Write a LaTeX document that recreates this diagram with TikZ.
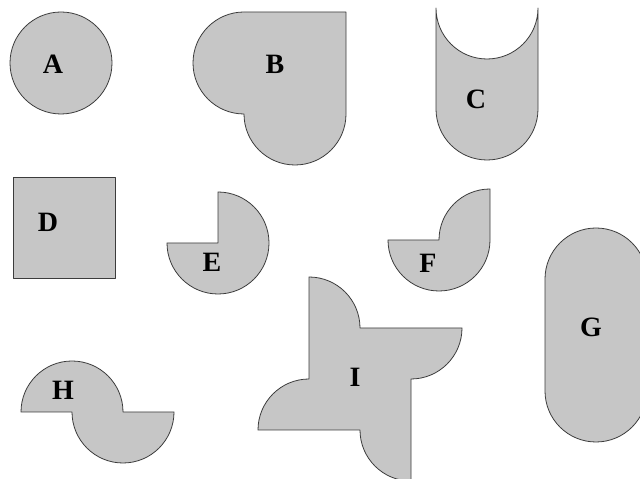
\documentclass[tikz,border=0pt]{standalone}
\usepackage{fontspec}
\setmainfont{Liberation Serif}
\usepackage{tikz}
\definecolor{piecefill}{RGB}{198,198,198}
\definecolor{pieceline}{RGB}{60,60,60}

\begin{document}
\begin{tikzpicture}[x=1pt, y=1pt,
		piece/.style={draw=pieceline, fill=piecefill, line width=0.8pt, line join=round},
		tag/.style={font=\fontsize{28}{32}\selectfont\bfseries, inner sep=0pt}]
	\useasboundingbox (0,0) rectangle (640,479);
	
	% A: disc
	\draw[piece] (61,416) circle[radius=51];
	\node[tag] (labA) at (53,415) {A};
	
	% B: square with two half discs
	\draw[piece] (244,467) -- (346,467) -- (346,365)
		arc[start angle=0, end angle=-180, radius=51]
		arc[start angle=270, end angle=90, radius=51] -- cycle;
	\node[tag] (labB) at (275,415) {B};
	
	% C: cup
	\draw[piece] (436,471) arc[start angle=180, end angle=360, radius=51]
		-- (538,370) arc[start angle=0, end angle=-180, radius=51] -- cycle;
	\node[tag] (labC) at (476,380) {C};
	
	% D: square
	\draw[piece] (13,201) rectangle (115,302);
	\node[tag] (labD) at (48,257) {D};
	
	% E: three quarter disc
	\draw[piece] (218,236) -- (167,236)
		arc[start angle=180, end angle=450, radius=51] -- cycle;
	\node[tag] (labE) at (212,217) {E};
	
	% F: half disc and quarter disc
	\draw[piece] (388,239) -- (439,239)
		arc[start angle=180, end angle=90, radius=51] -- (490,239)
		arc[start angle=0, end angle=-180, radius=51] -- cycle;
	\node[tag] (labF) at (428,216) {F};
	
	% G: stadium
	\draw[piece] (545,88) -- (545,200) arc[start angle=180, end angle=0, radius=51]
		-- (647,88) arc[start angle=0, end angle=-180, radius=51] -- cycle;
	\node[tag] (labG) at (591,152) {G};
	
	% H: two half discs
	\draw[piece] (21,67) arc[start angle=180, end angle=0, radius=51]
		-- (174,67) arc[start angle=0, end angle=-180, radius=51] -- cycle;
	\node[tag] (labH) at (63,89) {H};
	
	% I: pinwheel
	\draw[piece] (309,202) arc[start angle=90, end angle=0, radius=51]
		-- (462,151) arc[start angle=0, end angle=-90, radius=51]
		-- (411,-2) arc[start angle=270, end angle=180, radius=51]
		-- (258,49) arc[start angle=180, end angle=90, radius=51] -- cycle;
	\node[tag] (labI) at (355,102) {I};
\end{tikzpicture}
\end{document}
